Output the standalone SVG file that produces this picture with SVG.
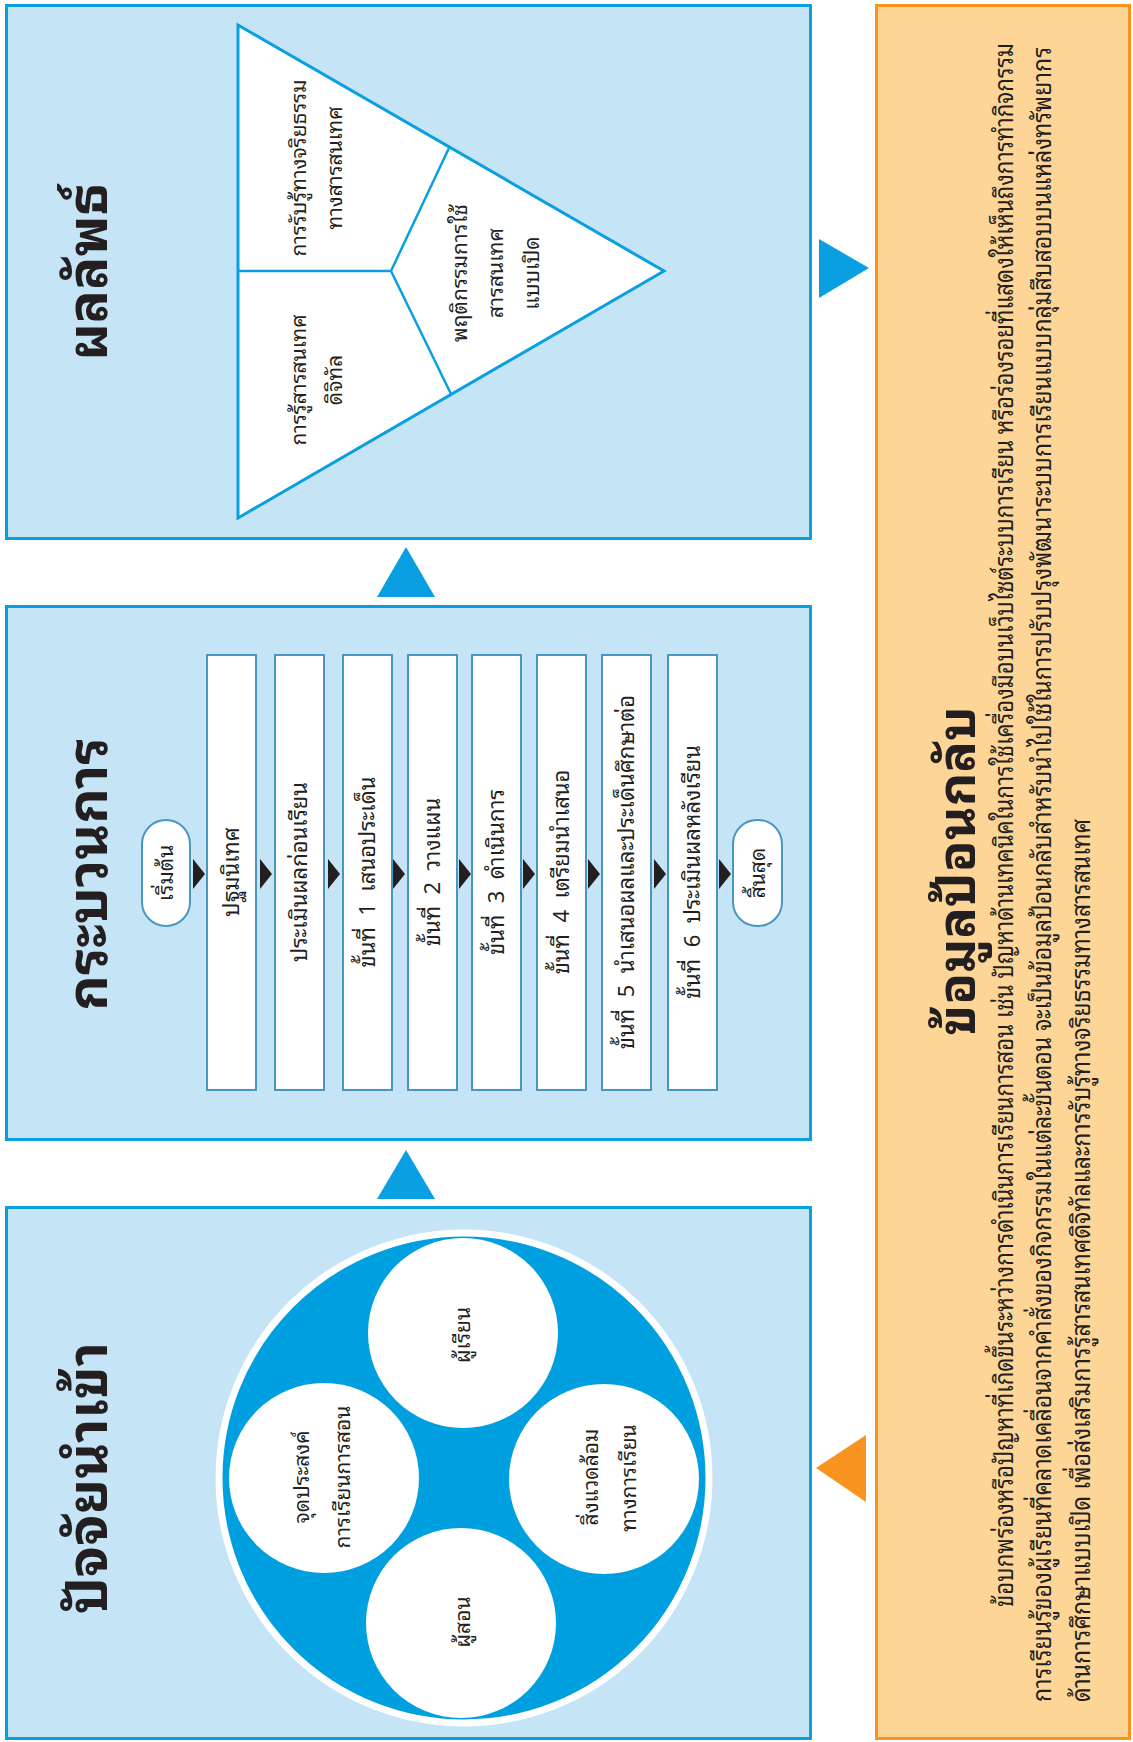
<svg xmlns="http://www.w3.org/2000/svg" width="1133" height="1742" viewBox="0 0 1133 1742">
<style>
.panel{fill:#c5e4f6;stroke:#0a9fe0;stroke-width:3}
.fb{fill:#fdd597;stroke:#f7931e;stroke-width:3}
.box{fill:#fff;stroke:#4a96c3;stroke-width:2}
.tri{fill:#fff;stroke:#0a9fe0;stroke-width:3}
.div{fill:none;stroke:#0a9fe0;stroke-width:2.5}
.blue{fill:#0a9fe0}
.org{fill:#f7931e}
.ah{fill:#231f20}
text{font-family:"Noto Sans Thai Looped","Noto Sans Thai","Noto Sans","DejaVu Sans",sans-serif;fill:#231f20}
.title{font-size:55px;font-weight:bold;text-anchor:middle}
.t2{font-size:52px;font-weight:bold;text-anchor:middle}
.lb{font-size:21px;text-anchor:middle}
.bx{font-size:22px;text-anchor:middle}
.pre{white-space:pre}
.para{font-size:26px}
</style>

<g id="panel-output">
<rect class="panel" x="6.5" y="5.5" width="804" height="533"/>
<text class="title" transform="translate(107,272) rotate(-90)">ผลลัพธ์</text>
<polygon class="tri" points="238,25 238,518 664,271"/>
<path class="div" d="M238,271 L391,271 L449,148 M391,271 L451,394"/>
<text class="lb" transform="translate(306,168) rotate(-90)">การรับรู้ทางจริยธรรม</text>
<text class="lb" transform="translate(342,168) rotate(-90)">ทางสารสนเทศ</text>
<text class="lb" transform="translate(306,380) rotate(-90)">การรู้สารสนเทศ</text>
<text class="lb" transform="translate(342,380) rotate(-90)">ดิจิทัล</text>
<text class="lb" transform="translate(467,273) rotate(-90)">พฤติกรรมการใช้</text>
<text class="lb" transform="translate(503,273) rotate(-90)">สารสนเทศ</text>
<text class="lb" transform="translate(539,273) rotate(-90)">แบบเปิด</text>
</g>

<g id="panel-process">
<rect class="panel" x="6.5" y="606.5" width="804" height="533"/>
<text class="title" transform="translate(107,874) rotate(-90)">กระบวนการ</text>
</g>
<g id="start"><rect class="box" x="142" y="820" width="48" height="106" rx="24"/><text class="lb" transform="translate(173,873) rotate(-90)">เริ่มต้น</text></g>
<g id="step-orientation"><rect class="box" x="207" y="655" width="49" height="435"/><text class="bx" transform="translate(239,872) rotate(-90)">ปฐมนิเทศ</text></g>
<g id="step-pretest"><rect class="box" x="275" y="655" width="49" height="435"/><text class="bx" transform="translate(307,872) rotate(-90)">ประเมินผลก่อนเรียน</text></g>
<g id="step-1"><rect class="box" x="343" y="655" width="49" height="435"/><text class="bx pre" transform="translate(375,872) rotate(-90)">ขั้นที่  1  เสนอประเด็น</text></g>
<g id="step-2"><rect class="box" x="408" y="655" width="49" height="435"/><text class="bx pre" transform="translate(440,872) rotate(-90)">ขั้นที่  2  วางแผน</text></g>
<g id="step-3"><rect class="box" x="472" y="655" width="49" height="435"/><text class="bx pre" transform="translate(504,872) rotate(-90)">ขั้นที่  3  ดำเนินการ</text></g>
<g id="step-4"><rect class="box" x="537" y="655" width="49" height="435"/><text class="bx pre" transform="translate(569,872) rotate(-90)">ขั้นที่  4  เตรียมนำเสนอ</text></g>
<g id="step-5"><rect class="box" x="602" y="655" width="49" height="435"/><text class="bx pre" transform="translate(634,872) rotate(-90)">ขั้นที่  5  นำเสนอผลและประเด็นศึกษาต่อ</text></g>
<g id="step-6"><rect class="box" x="668" y="655" width="49" height="435"/><text class="bx pre" transform="translate(700,872) rotate(-90)">ขั้นที่  6  ประเมินผลหลังเรียน</text></g>
<g id="end"><rect class="box" x="733" y="820" width="49" height="106" rx="24"/><text class="lb" transform="translate(765,873) rotate(-90)">สิ้นสุด</text></g>

<g id="panel-input">
<rect class="panel" x="6.5" y="1207.5" width="804" height="531"/>
<text class="title" transform="translate(107,1478) rotate(-90)">ปัจจัยนำเข้า</text>
<circle cx="464" cy="1478" r="245" fill="#009fdf" stroke="#fff" stroke-width="7"/>
</g>
<g id="learner"><circle cx="463" cy="1333" r="95" fill="#fff"/><text class="lb" transform="translate(470,1335) rotate(-90)">ผู้เรียน</text></g>
<g id="teacher"><circle cx="461" cy="1623" r="95" fill="#fff"/><text class="lb" transform="translate(470,1622) rotate(-90)">ผู้สอน</text></g>
<g id="objective"><circle cx="324" cy="1478" r="95" fill="#fff"/><text class="lb" transform="translate(309,1477) rotate(-90)">จุดประสงค์</text><text class="lb" transform="translate(350,1477) rotate(-90)">การเรียนการสอน</text></g>
<g id="environment"><circle cx="604" cy="1479" r="95" fill="#fff"/><text class="lb" transform="translate(598,1477) rotate(-90)">สิ่งแวดล้อม</text><text class="lb" transform="translate(636,1478) rotate(-90)">ทางการเรียน</text></g>

<g id="panel-feedback">
<rect class="fb" x="876.5" y="5.5" width="253" height="1733"/>
<text class="t2" transform="translate(975,871) rotate(-90)">ข้อมูลป้อนกลับ</text>
<text class="para" transform="translate(1013,1607) rotate(-90)" textLength="1564" lengthAdjust="spacingAndGlyphs">ข้อบกพร่องหรือปัญหาที่เกิดขึ้นระหว่างการดำเนินการเรียนการสอน เช่น ปัญหาด้านเทคนิคในการใช้เครื่องมือบนเว็บไซต์ระบบการเรียน หรือร่องรอยที่แสดงให้เห็นถึงการทำกิจกรรม</text>
<text class="para" transform="translate(1051,1702) rotate(-90)" textLength="1655" lengthAdjust="spacingAndGlyphs">การเรียนรู้ของผู้เรียนที่คลาดเคลื่อนจากคำสั่งของกิจกรรมในแต่ละขั้นตอน  จะเป็นข้อมูลป้อนกลับสำหรับนำไปใช้ในการปรับปรุงพัฒนาระบบการเรียนแบบกลุ่มสืบสอบบนแหล่งทรัพยากร</text>
<text class="para" transform="translate(1090,1702) rotate(-90)" textLength="883" lengthAdjust="spacingAndGlyphs">ด้านการศึกษาแบบเปิด เพื่อส่งเสริมการรู้สารสนเทศดิจิทัลและการรับรู้ทางจริยธรรมทางสารสนเทศ</text>
</g>

<g id="connectors">
<polygon class="blue" points="406,1150 377,1199 435,1199"/>
<polygon class="blue" points="406,547 377,597 435,597"/>
<polygon class="blue" points="869,268 819,239 819,298"/>
<polygon class="org" points="816,1468 866,1435 866,1502"/>
<polygon class="ah" points="193,859 193,889 205,874"/>
<polygon class="ah" points="260,859 260,889 272,874"/>
<polygon class="ah" points="328,859 328,889 340,874"/>
<polygon class="ah" points="393,859 393,889 405,874"/>
<polygon class="ah" points="459,859 459,889 471,874"/>
<polygon class="ah" points="523,859 523,889 535,874"/>
<polygon class="ah" points="588,859 588,889 600,874"/>
<polygon class="ah" points="654,859 654,889 666,874"/>
<polygon class="ah" points="719,859 719,889 731,874"/>
</g>
</svg>
